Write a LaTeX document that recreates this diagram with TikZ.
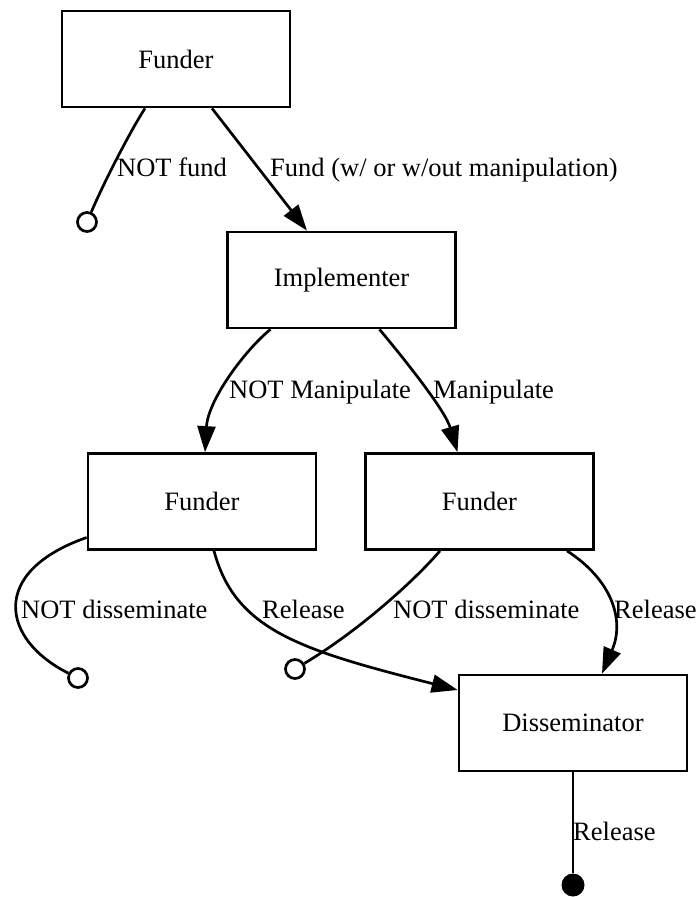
\documentclass[tikz,border=0pt]{standalone}
\usepackage{fontspec}
\setmainfont{Liberation Serif}
\usepackage{tikz}
\usetikzlibrary{positioning,arrows.meta,calc}
\tikzset{
  node-box/.style={draw,line width=2.7pt,minimum width=228pt,minimum height=96pt,
    inner sep=0pt,align=center,font=\fontsize{26.5}{30}\selectfont},
  node-end/.style={draw,circle,line width=2.7pt,minimum size=19pt,inner sep=0pt},
  node-end-fill/.style={fill,circle,minimum size=23pt,inner sep=0pt},
  edge-label/.style={inner sep=0pt,anchor=base west,font=\fontsize{26.5}{30}\selectfont},
  arrow/.style={-{Triangle[length=26pt,width=18pt]},line width=2.7pt},
  line-plain/.style={line width=2.7pt},
}
\begin{document}
\begin{tikzpicture}[x=1pt,y=-1pt]
  \useasboundingbox (0,0) rectangle (697,897);
  % boxes
  \node[node-box] (fund1) at (176,59) {Funder};
  \node[node-box] (impl) at (341.5,280) {Implementer};
  \node[node-box] (fundL) at (202,501.5) {Funder};
  \node[node-box] (fundR) at (479.5,501.5) {Funder};
  \node[node-box] (diss) at (573,723) {Disseminator};
  % ends
  \node[node-end] (stopFund) at (87,222) {};
  \node[node-end] (stopL) at (78,678) {};
  \node[node-end] (stopR) at (295,669) {};
  \node[node-end-fill] (done) at (573,885) {};
  % edges
  \draw[line-plain] ($(fund1.south)+(-31,0)$) .. controls (131,130) and (105,180) .. (stopFund);
  \draw[arrow] ($(fund1.south)+(36,0)$) -- ($(impl.north)+(-34.5,0)$);
  \draw[arrow] ($(impl.south)+(-71,0)$) .. controls (245,350) and (208,400) .. ($(fundL.north)+(3,0)$);
  \draw[arrow] ($(impl.south)+(38,0)$) .. controls (405,360) and (445,410) .. ($(fundR.north)+(-22,0)$);
  \draw[line-plain] ($(fundL.west)+(0,36)$) .. controls (-12,572) and (2,640) .. (stopL);
  \draw[arrow] ($(fundL.south)+(12,0)$) .. controls (235,630) and (300,650) .. ($(diss.west)+(0,-33)$);
  \draw[line-plain] ($(fundR.south)+(-39.5,0)$) .. controls (415,580) and (360,630) .. (stopR);
  \draw[arrow] ($(fundR.south)+(87.5,0)$) .. controls (612,580) and (625,620) .. ($(diss.north)+(29,0)$);
  \draw[line-plain] (diss.south) -- (done);
  % labels
  \node[edge-label] (lNotFund) at (117,176.5) {NOT fund};
  \node[edge-label] (lFund) at (270,176.5) {Fund (w/ or w/out manipulation)};
  \node[edge-label] (lNotMan) at (229,398) {NOT Manipulate};
  \node[edge-label] (lMan) at (433,398) {Manipulate};
  \node[edge-label] (lNotDissL) at (21,618) {NOT disseminate};
  \node[edge-label] (lRelL) at (262,618) {Release};
  \node[edge-label] (lNotDissR) at (393,618) {NOT disseminate};
  \node[edge-label] (lRelR) at (614,618) {Release};
  \node[edge-label] (lRelOut) at (573,840) {Release};
\end{tikzpicture}
\end{document}
